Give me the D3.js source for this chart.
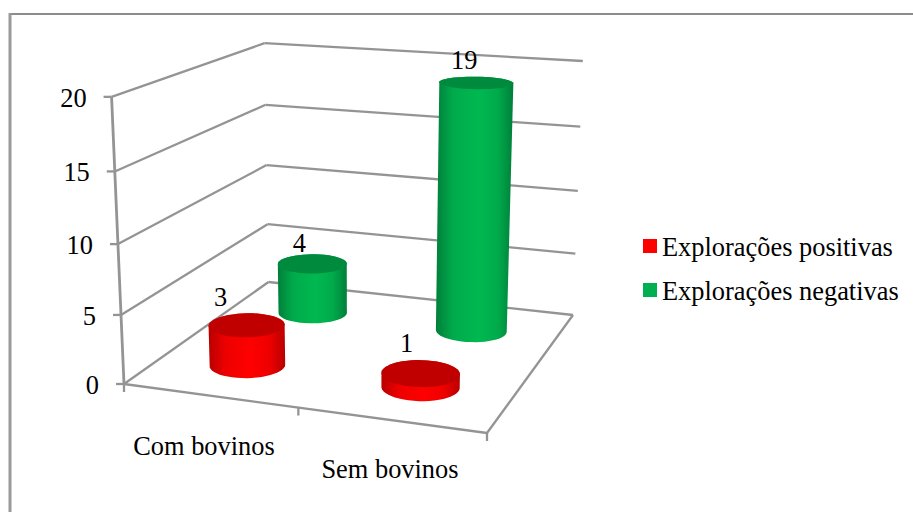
<!DOCTYPE html>
<html>
<head>
<meta charset="utf-8">
<title>Explorações</title>
<script src="https://cdnjs.cloudflare.com/ajax/libs/d3/7.8.5/d3.min.js"></script>
<style>
	html, body { margin: 0; padding: 0; background: #fff; overflow: hidden; }
	svg { display: block; }
	text { font-family: "Liberation Serif", serif; font-size: 26.4px; fill: #000; }
</style>
</head>
<body>
<svg id="chart" width="913" height="512"></svg>
<script>
'use strict';

var categories = ['Com bovinos', 'Sem bovinos'];
var seriesNames = ['Explorações positivas', 'Explorações negativas'];
var positivas = [3, 1];
var negativas = [4, 19];
var valueTicks = [0, 5, 10, 15, 20];

var colors = [
	{ key: '#ff0000', side: '#ff0000', edge: '#b80000', top: '#c00000' },
	{ key: '#00b050', side: '#00b850', edge: '#007f3a', top: '#008a3e' }
];

// nudges for the data labels, relative to the top of each cylinder
var labelNudge = [
	[[-26, -19], [-14, -21]],
	[[-13, -12], [-12, -14]]
];

var svg = d3.select('#chart');

// floor axes run 0..1 across the plot, height runs 0..1 up the wall
var xscale = d3.scaleBand().domain(d3.range(categories.length)).range([0, 1]);
var zscale = d3.scaleBand().domain(d3.range(seriesNames.length)).range([0, 1]);
var yscale = d3.scaleLinear().domain([0, 20]).range([0, 1]);

// projective camera for the 3D box
var cam = {
	a: 326.05, b: 201.84, cx: -18, dx: 124,
	d: 16.15, e: -41.78, cy: -292, dy: 384,
	g: -0.07587, h: 0.21355, i: -0.05
};

var project = function(u, v, w) {
	var den = cam.g * u + cam.h * v + cam.i * w + 1;
	return [
		(cam.a * u + cam.b * v + cam.cx * w + cam.dx) / den,
		(cam.d * u + cam.e * v + cam.cy * w + cam.dy) / den
	];
};

var line = d3.line();
var closedLine = d3.line().curve(d3.curveLinearClosed);

var drawLine = function(p, q, width) {
	svg.append('path')
		.attr('d', line([p, q]))
		.attr('fill', 'none')
		.attr('stroke', '#949494')
		.attr('stroke-width', width || 2.3);
};

// outer frame, it runs off the right and bottom of the page
svg.append('path')
	.attr('d', line([[913, 14], [10, 14]]))
	.attr('stroke', '#8c8c8c')
	.attr('stroke-width', 2);
svg.append('path')
	.attr('d', line([[10, 13], [10, 512]]))
	.attr('stroke', '#9a9a9a')
	.attr('stroke-width', 3);

// walls
valueTicks.forEach(function(t) {
	var w = yscale(t);
	drawLine(project(0, 0, w), project(0, 1, w));
	drawLine(project(0, 1, w), project(1, 1, w));

	var p = project(0, 0, w);
	drawLine(p, [p[0] - 8, p[1]]);
	svg.append('text')
		.attr('x', p[0] - 25)
		.attr('y', p[1] + 10)
		.attr('text-anchor', 'end')
		.text(t);
});
drawLine(project(0, 0, 0), project(0, 0, 1), 2.8);

// floor
drawLine(project(0, 0, 0), project(1, 0, 0));
drawLine(project(1, 0, 0), project(1, 1, 0));
d3.range(categories.length + 1).forEach(function(i) {
	var p = project(i / categories.length, 0, 0);
	drawLine(p, [p[0], p[1] + 8]);
});

// cylinder side shading
var defs = svg.append('defs');
colors.forEach(function(c, s) {
	var mid = d3.interpolateRgb(c.edge, c.side)(0.75);
	var grad = defs.append('linearGradient').attr('id', 'side' + s);
	grad.append('stop').attr('offset', '0%').attr('stop-color', c.edge);
	grad.append('stop').attr('offset', '22%').attr('stop-color', mid);
	grad.append('stop').attr('offset', '55%').attr('stop-color', c.side);
	grad.append('stop').attr('offset', '80%').attr('stop-color', mid);
	grad.append('stop').attr('offset', '100%').attr('stop-color', c.edge);
});

var radius = 0.104;
var ring = function(u, v, w) {
	return d3.range(0, 48).map(function(k) {
		var t = k / 48 * 2 * Math.PI;
		return project(u + radius * Math.cos(t), v + radius * Math.sin(t), w);
	});
};

var seriesValues = [positivas, negativas];

var drawCylinder = function(s, c) {
	var value = seriesValues[s][c];
	var u = xscale(c) + xscale.bandwidth() / 2;
	var v = zscale(s) + zscale.bandwidth() / 2;
	var w = yscale(value);
	var bottom = ring(u, v, 0);
	var top = ring(u, v, w);
	var hull = d3.polygonHull(bottom.concat(top));

	svg.append('path')
		.attr('d', closedLine(hull))
		.attr('fill', 'url(#side' + s + ')');
	svg.append('path')
		.attr('d', closedLine(top))
		.attr('fill', colors[s].top);

	var p = project(u, v, w);
	svg.append('text')
		.attr('x', p[0] + labelNudge[s][c][0])
		.attr('y', p[1] + labelNudge[s][c][1])
		.attr('text-anchor', 'middle')
		.text(value);
};

// back row first so the front row sits over it
d3.range(seriesNames.length).reverse().forEach(function(s) {
	d3.range(categories.length).forEach(function(c) {
		drawCylinder(s, c);
	});
});

// category labels
var catPos = [[204, 455], [390, 478]];
categories.forEach(function(name, i) {
	svg.append('text')
		.attr('x', catPos[i][0])
		.attr('y', catPos[i][1])
		.attr('text-anchor', 'middle')
		.text(name);
});

// legend
seriesNames.forEach(function(name, i) {
	var y = 239 + i * 44;
	svg.append('rect')
		.attr('x', 643)
		.attr('y', y)
		.attr('width', 14)
		.attr('height', 14)
		.attr('fill', colors[i].key);
	svg.append('text')
		.attr('x', 662)
		.attr('y', y + 16.5)
		.text(name);
});
</script>
</body>
</html>
